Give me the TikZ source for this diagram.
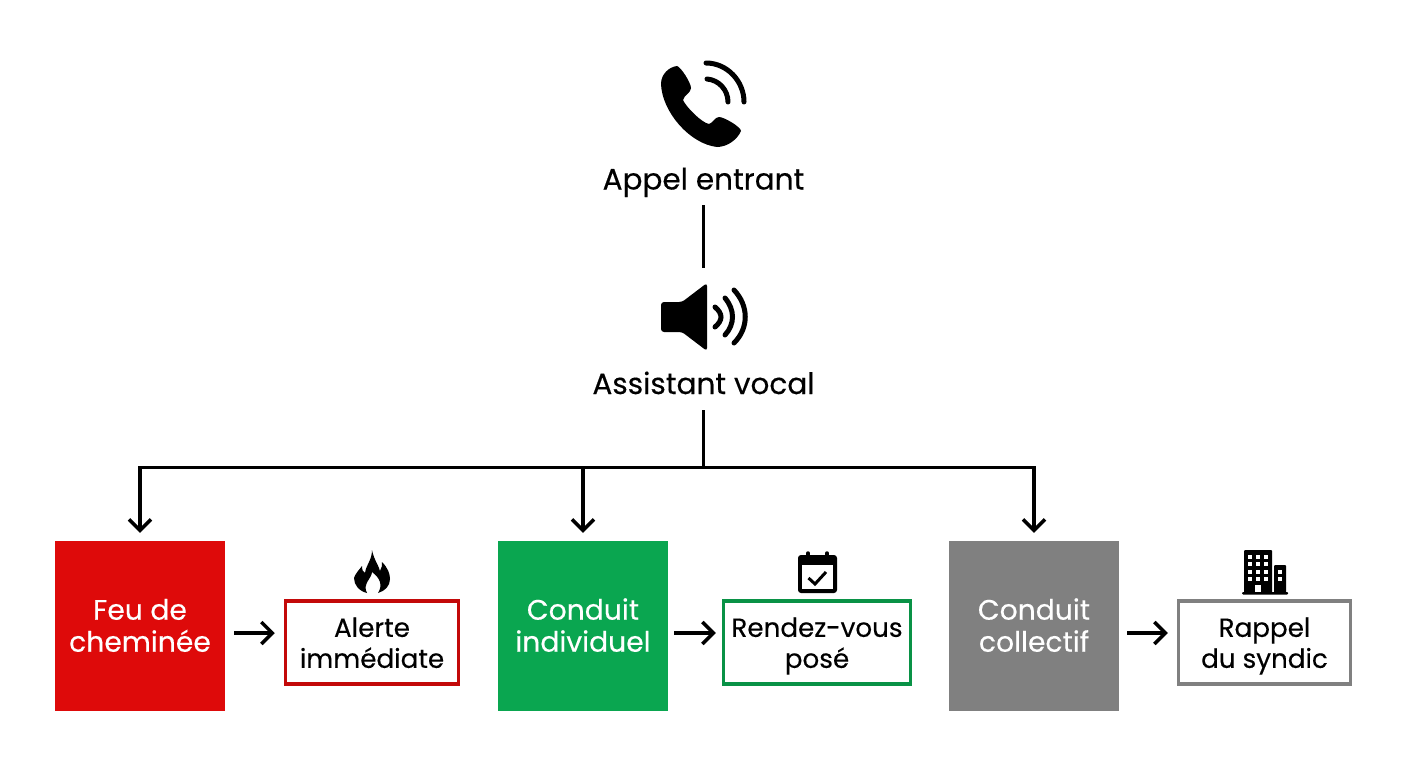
\documentclass[tikz,border=0pt]{standalone}
\usepackage{fontspec}
\setmainfont{Poppins}[FakeBold=0.35]
\usetikzlibrary{arrows.meta,calc}
\definecolor{rouge}{HTML}{DE0A0A}
\definecolor{vert}{HTML}{0AA650}
\definecolor{gris}{HTML}{808080}
\newcommand{\lignes}[2]{\rule{0pt}{29pt}#1\\\strut #2}
\begin{document}
\begin{tikzpicture}[
  x=1pt, y=-1pt,
  titre/.style={font=\fontsize{29.5}{32}\selectfont, inner sep=0pt, anchor=base},
  grand/.style={font=\fontsize{28.2}{32}\selectfont, minimum width=170pt, minimum height=170pt, inner sep=0pt, align=center, text=white},
  petit/.style={font=\fontsize{26.2}{31}\selectfont, draw, line width=3.5pt, fill=white, minimum height=83pt, inner sep=0pt, align=center},
  ln/.style={line width=3.5pt},
  fl/.style={line width=3.5pt, -{Straight Barb[length=11pt,width=22pt,line width=3.5pt]}},
  onde/.style={line width=5pt, line cap=round},
]
\useasboundingbox (0,0) rectangle (1408,768);
\fill[white] (0,0) rectangle (1408,768);

% ---------- appel ----------
\node[titre] (appel) at (703.5,189.5) {Appel entrant};
\fill (677,66) .. controls (669,67) and (661,74) .. (661,84)
  .. controls (662,112) and (690,144) .. (717,147)
  .. controls (727,147) and (737,140) .. (741,131)
  .. controls (741,127) and (724,117) .. (719,117)
  .. controls (715,117) and (713,123) .. (709,124)
  .. controls (702,123) and (686,107) .. (683,100)
  .. controls (684,95) and (691,93) .. (691,88)
  .. controls (691,83) and (681,67) .. (677,66) -- cycle;
\draw[onde] (706,63) .. controls (727,63) and (744,81) .. (744,102);
\draw[onde] (707,79) .. controls (719,80) and (728,90) .. (728,102);

% ---------- assistant ----------
\node[titre] (assistant) at (703.5,394) {Assistant vocal};
\fill[rounded corners=3pt] (661,302) -- (682,302) -- (707,283) -- (707,351) -- (682,332) -- (661,332) -- cycle;
\draw[onde] (715,307) .. controls (723,314) and (723,320) .. (715,327);
\draw[onde] (725,298) .. controls (735,310) and (735,324) .. (725,335);
\draw[onde] (734,290) .. controls (749,306) and (749,328) .. (734,343);

\coordinate (haut) at (703.5,205);
\coordinate (bas) at (703.5,268);
\draw[ln] (haut) -- (bas);

% ---------- decisions ----------
\node[grand, fill=rouge] (feu) at (140,626) {\lignes{Feu de}{chemin\'ee}};
\node[grand, fill=vert] (indiv) at (583,626) {\lignes{Conduit}{individuel}};
\node[grand, fill=gris] (coll) at (1034,626) {\lignes{Conduit}{collectif}};

\node[petit, draw=rouge!88!black, minimum width=173pt] (alerte) at (372,642.5) {\lignes{Alerte}{imm\'ediate}};
\node[petit, draw=vert!88!black, minimum width=187pt] (rdv) at (817,642.5) {\lignes{Rendez-vous}{pos\'e}};
\node[petit, draw=gris, minimum width=172pt] (rappel) at (1264.5,642.5) {\lignes{Rappel}{du syndic}};

\coordinate (depart) at (703.5,410);
\coordinate (noeud) at (703.5,467.5);
\draw[ln] (depart) -- (noeud);
\draw[ln, line cap=rect] (noeud -| feu) -- (noeud -| coll);
\draw[fl] (noeud -| feu) -- ([yshift=8pt]feu.north);
\draw[fl] (noeud -| indiv) -- ([yshift=8pt]indiv.north);
\draw[fl] (noeud -| coll) -- ([yshift=8pt]coll.north);

\draw[fl] ([shift={(9,7)}]feu.east) -- ([shift={(-9,-9.5)}]alerte.west);
\draw[fl] ([shift={(6,7)}]indiv.east) -- ([shift={(-6,-9.5)}]rdv.west);
\draw[fl] ([shift={(8,7)}]coll.east) -- ([shift={(-9,-9.5)}]rappel.west);

% ---------- flamme ----------
\fill (372,550) .. controls (374,560) and (379,566) .. (380,571)
  .. controls (382,568) and (382,565) .. (382,562)
  .. controls (388,568) and (390,574) .. (390,579)
  .. controls (390,586) and (385,591) .. (378,593)
  .. controls (383,585) and (380,578) .. (372,572)
  .. controls (372,578) and (362,584) .. (367,593)
  .. controls (359,591) and (354,585) .. (354,578)
  .. controls (355,574) and (359,570) .. (362,566)
  .. controls (362,570) and (363,572) .. (365,573)
  .. controls (366,565) and (372,560) .. (372,550) -- cycle;

% ---------- calendrier ----------
\fill[rounded corners=3pt] (798,555) rectangle (837,593);
\fill[white] (802,565) rectangle (833,589);
\draw[line width=3.5pt, line cap=round] (808,553) -- (808,556);
\draw[line width=3.5pt, line cap=round] (827,553) -- (827,556);
\draw[line width=3pt] (808.5,578) -- (815,584) -- (826,572);

% ---------- immeuble ----------
\fill[rounded corners=1pt] (1244,550) rectangle (1272,593);
\fill[rounded corners=1pt] (1274,565) rectangle (1286,593);
\fill[rounded corners=1pt] (1242,592) rectangle (1288,594.5);
\foreach \yy in {557,564,572,579}
  \foreach \xx in {1250,1258,1266}
    \fill[white] (\xx-1.7,\yy-1.7) rectangle (\xx+1.7,\yy+1.7);
\foreach \yy in {572,579}
  \fill[white] (1278.3,\yy-1.7) rectangle (1281.7,\yy+1.7);
\fill[white] (1255,585) rectangle (1261,592);
\end{tikzpicture}
\end{document}
